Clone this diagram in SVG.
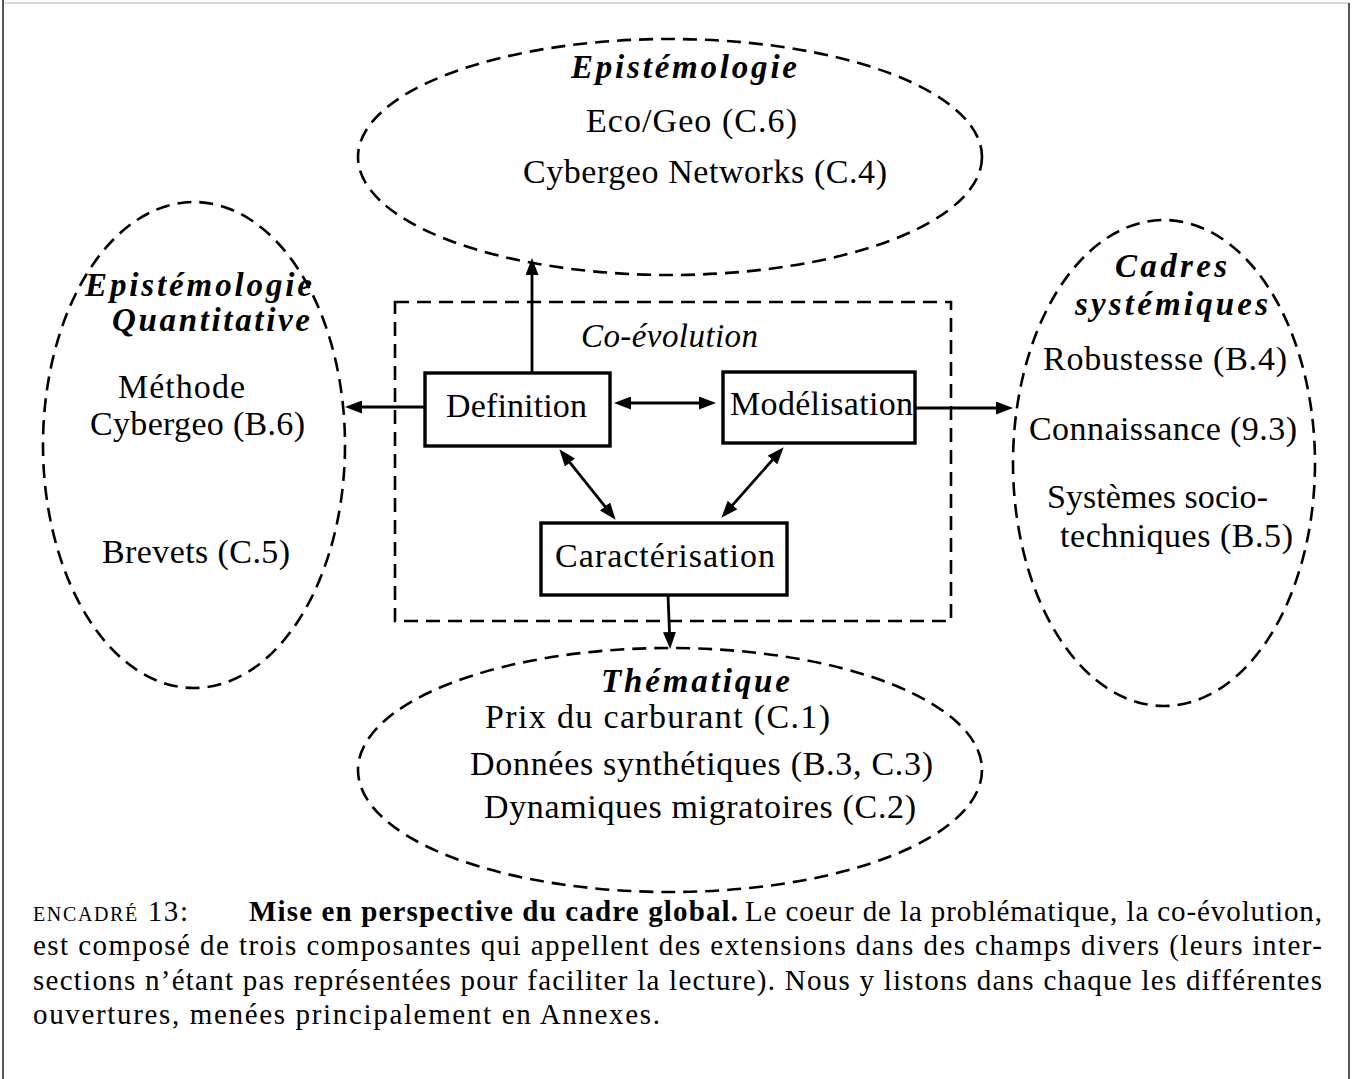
<svg xmlns="http://www.w3.org/2000/svg" width="1355" height="1079" viewBox="0 0 1355 1079">
<defs>
<style>
.frame-side{stroke:#555;stroke-width:2;fill:none}
.frame-top{stroke:#ccc;stroke-width:1.5;fill:none}
.ell{fill:none;stroke:#000;stroke-width:2.6;stroke-dasharray:14 8}
.grp{fill:none;stroke:#000;stroke-width:2.6;stroke-dasharray:14 8}
.box{fill:#fff;stroke:#000;stroke-width:3.4}
.conn{stroke:#000;stroke-width:2.8;fill:none}
.t{font-family:"Liberation Serif","Times New Roman",serif;font-size:34px;fill:#000}
.h{font-family:"Liberation Serif","Times New Roman",serif;font-size:33px;font-weight:bold;font-style:italic;fill:#000}
.i{font-family:"Liberation Serif","Times New Roman",serif;font-size:33px;font-style:italic;fill:#000}
.cap{font-family:"Liberation Serif","Times New Roman",serif;font-size:29px;fill:#000}
.sc{font-variant:small-caps;letter-spacing:2px}
.b{font-weight:bold}
</style>
<marker id="ah" viewBox="0 0 17 13" refX="8" refY="6.5" markerWidth="17" markerHeight="13" markerUnits="userSpaceOnUse" orient="auto-start-reverse">
<path d="M0,0 L17,6.5 L0,13 z" fill="#000"/>
</marker>
</defs>
<rect x="0" y="0" width="1355" height="1079" fill="#fff"/>
<g id="frame">
<line class="frame-top" x1="3" y1="3" x2="1349" y2="3"/>
<line class="frame-side" x1="3" y1="0" x2="3" y2="1079"/>
<line class="frame-side" x1="1349" y1="3" x2="1349" y2="1079"/>
</g>

<g id="epistemologie">
<ellipse class="ell" cx="670" cy="157" rx="312" ry="118"/>
<text class="h" x="571" y="78" textLength="226">Epistémologie</text>
<text class="t" x="586" y="132" textLength="211">Eco/Geo (C.6)</text>
<text class="t" x="523" y="183" textLength="364">Cybergeo Networks (C.4)</text>
</g>

<g id="epistemologie-quantitative">
<ellipse class="ell" cx="194" cy="445" rx="151" ry="243"/>
<text class="h" x="85" y="296" textLength="227">Epistémologie</text>
<text class="h" x="112" y="331" textLength="198">Quantitative</text>
<text class="t" x="118" y="398" textLength="127">Méthode</text>
<text class="t" x="90" y="435" textLength="215">Cybergeo (B.6)</text>
<text class="t" x="102" y="563" textLength="188">Brevets (C.5)</text>
</g>

<g id="cadres-systemiques">
<ellipse class="ell" cx="1164" cy="463" rx="151" ry="243"/>
<text class="h" x="1115" y="277" textLength="112">Cadres</text>
<text class="h" x="1075" y="315" textLength="193">systémiques</text>
<text class="t" x="1043" y="370" textLength="244">Robustesse (B.4)</text>
<text class="t" x="1029" y="440" textLength="268">Connaissance (9.3)</text>
<text class="t" x="1047" y="508" textLength="221">Systèmes socio-</text>
<text class="t" x="1060" y="547" textLength="233">techniques (B.5)</text>
</g>

<g id="thematique">
<ellipse class="ell" cx="670" cy="770" rx="312" ry="122"/>
<text class="h" x="601" y="692" textLength="189">Thématique</text>
<text class="t" x="485" y="728" textLength="345">Prix du carburant (C.1)</text>
<text class="t" x="470" y="775" textLength="463">Données synthétiques (B.3, C.3)</text>
<text class="t" x="484" y="818" textLength="432">Dynamiques migratoires (C.2)</text>
</g>

<g id="co-evolution">
<rect class="grp" x="395" y="302" width="556" height="319"/>
<text class="i" x="581" y="347" textLength="177">Co-évolution</text>
</g>

<g id="connectors">
<line class="conn" x1="532" y1="372" x2="532" y2="267" marker-end="url(#ah)"/>
<line class="conn" x1="425" y1="407" x2="354" y2="407" marker-end="url(#ah)"/>
<line class="conn" x1="623" y1="403" x2="707" y2="403" marker-start="url(#ah)" marker-end="url(#ah)"/>
<line class="conn" x1="565" y1="456.3" x2="610" y2="512.7" marker-start="url(#ah)" marker-end="url(#ah)"/>
<line class="conn" x1="777.7" y1="454" x2="727.3" y2="511" marker-start="url(#ah)" marker-end="url(#ah)"/>
<line class="conn" x1="915" y1="408" x2="1004" y2="408" marker-end="url(#ah)"/>
<line class="conn" x1="668" y1="595" x2="669.8" y2="640" marker-end="url(#ah)"/>
</g>

<g id="definition">
<rect class="box" x="425" y="373" width="185" height="73"/>
<text class="t" x="446" y="417" textLength="141">Definition</text>
</g>
<g id="modelisation">
<rect class="box" x="723" y="372" width="192" height="71"/>
<text class="t" x="730" y="415" textLength="183">Modélisation</text>
</g>
<g id="caracterisation">
<rect class="box" x="541" y="523" width="246" height="72"/>
<text class="t" x="555" y="567" textLength="220">Caractérisation</text>
</g>

<g id="caption">
<text class="cap sc" x="33" y="921" textLength="157">encadré 13:</text>
<text class="cap b" x="249" y="921" textLength="489">Mise en perspective du cadre global.</text>
<text class="cap" x="745" y="921" textLength="577">Le coeur de la problématique, la co-évolution,</text>
<text class="cap" x="33" y="955" textLength="1289">est composé de trois composantes qui appellent des extensions dans des champs divers (leurs inter-</text>
<text class="cap" x="33" y="990" textLength="1289">sections n’étant pas représentées pour faciliter la lecture). Nous y listons dans chaque les différentes</text>
<text class="cap" x="33" y="1024" textLength="627">ouvertures, menées principalement en Annexes.</text>
</g>
</svg>
